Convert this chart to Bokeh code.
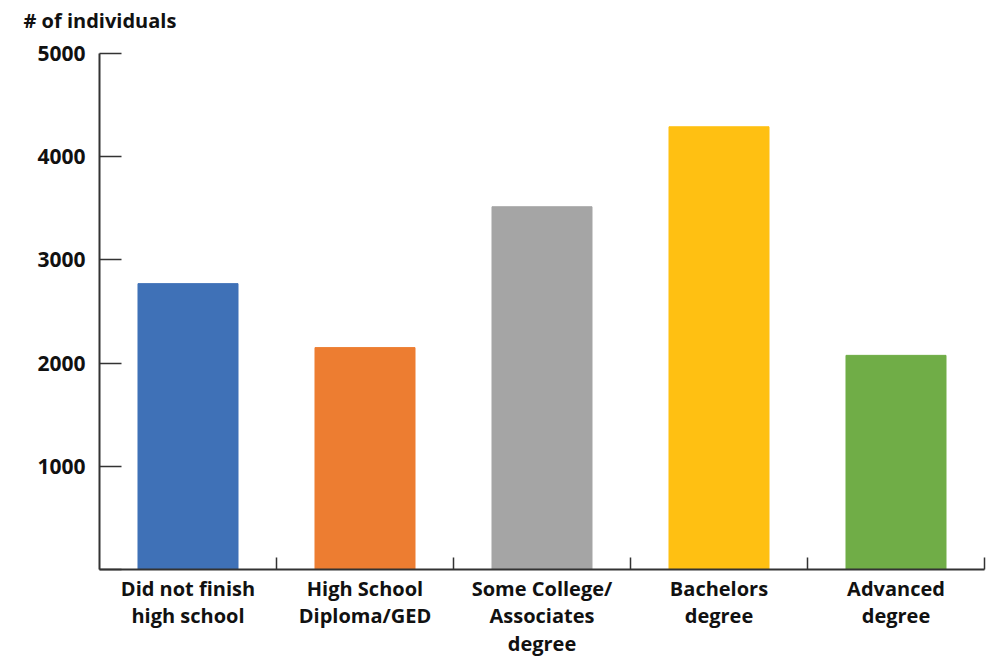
from bokeh.plotting import figure
from bokeh.models import FixedTicker, Range1d, Title
from bokeh.embed import file_html
from bokeh.resources import INLINE

categories = ["Did not finish\nhigh school", "High School\nDiploma/GED",
              "Some College/\nAssociates\ndegree", "Bachelors\ndegree", "Advanced\ndegree"]
values = [2770, 2150, 3515, 4290, 2075]
colors = ["#3F71B7", "#ED7D31", "#A5A5A5", "#FFC012", "#70AD47"]
y_ticks = [0, 1000, 2000, 3000, 4000, 5000]
y_tick_labels = ["", "1000", "2000", "3000", "4000", "5000"]
title_text = "# of individuals"

xs = [i + 0.5 for i in range(len(categories))]

p = figure(frame_width=885, frame_height=516, output_backend="svg", toolbar_location=None,
           x_range=Range1d(0, len(categories)), y_range=Range1d(0, 5000),
           min_border_left=99, min_border_right=14, min_border_top=53, min_border_bottom=0)
p.title.text = title_text
p.title.text_font = "Open Sans"
p.title.text_font_size = "20px"
p.title.text_font_style = "bold"
p.title.text_color = "#111111"
p.title.offset = -76
p.title.standoff = 0
p.title.vertical_align = "bottom"

# empty spacer between the title and the plot area
p.add_layout(Title(text=" ", text_font_size="1px", standoff=17), "above")

p.vbar(x=xs, top=values, width=0.565, bottom=0, color=colors)

p.grid.visible = False
p.outline_line_color = None

ax = p.xaxis[0]
ax.ticker = FixedTicker(ticks=xs, minor_ticks=[1, 2, 3, 4, 5])
ax.major_label_overrides = {x: c for x, c in zip(xs, categories)}
ax.major_tick_line_color = None
ax.major_tick_in = 0
ax.major_tick_out = 0
ax.minor_tick_in = 12
ax.minor_tick_out = 0
ax.minor_tick_line_color = "#333333"
ax.minor_tick_line_width = 1.5
ax.axis_line_color = "#333333"
ax.axis_line_width = 2
ax.major_label_text_font = "Open Sans"
ax.major_label_text_font_style = "bold"
ax.major_label_text_font_size = "20px"
ax.major_label_text_color = "#111111"
ax.major_label_text_line_height = 1.02
ax.major_label_standoff = 5

ay = p.yaxis[0]
ay.ticker = FixedTicker(ticks=y_ticks)
ay.major_label_overrides = {t: l for t, l in zip(y_ticks, y_tick_labels)}
ay.major_tick_in = 22
ay.major_tick_out = 0
ay.major_tick_line_color = "#333333"
ay.major_tick_line_width = 1.5
ay.minor_tick_line_color = None
ay.axis_line_color = "#333333"
ay.axis_line_width = 2
ay.major_label_text_font = "Open Sans"
ay.major_label_text_font_style = "bold"
ay.major_label_text_font_size = "21px"
ay.major_label_text_color = "#111111"
ay.major_label_standoff = 14

open("out.html", "w").write(file_html(p, INLINE))
